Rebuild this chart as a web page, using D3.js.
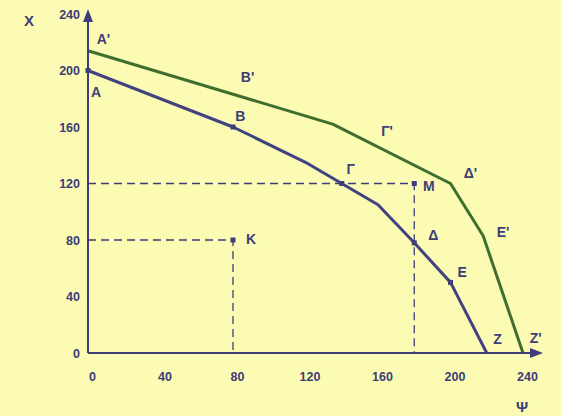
<!DOCTYPE html>
<meta charset="utf-8">
<style>
body { margin: 0; }
svg { background: #fbfbb4; display: block; }
text { font-family: "Liberation Sans", Arial, sans-serif; font-weight: bold; fill: #3d3d78; }
.tick text { font-family: "Liberation Sans Narrow", "Liberation Sans", Arial, sans-serif; font-size: 12.5px; }
</style>
<body>
<script src="https://cdn.jsdelivr.net/npm/d3@7"></script>
<script>

// axis ticks
var xTicks = [0, 40, 80, 120, 160, 200, 240];
var yTicks = [0, 40, 80, 120, 160, 200, 240];

// first frontier (blue)
var blueX = [0, 80, 120, 140, 160, 180, 200, 220];
var blueY = [200, 160, 135, 120, 105, 78, 50, 0];

// second frontier (green)
var greenX = [0, 135, 200, 218, 240];
var greenY = [214, 162, 120, 83, 0];

// marked points
var dotX = [0, 80, 140, 180, 200, 80, 180];
var dotY = [200, 160, 120, 78, 50, 80, 120];

// dashed guide points K and M
var guideX = [80, 180];
var guideY = [80, 120];

// point labels and where they sit (data units)
var labelText = ["A'", "A", "B'", "B", "Γ'", "Γ", "M", "Δ'", "E'", "Δ", "E", "K", "Z", "Z'"];
var labelX = [8.5, 4.5, 88, 84, 165, 145, 188, 211, 229, 190.5, 206.5, 90, 226, 247];
var labelY = [222, 185, 195.5, 168, 157, 130, 118, 127.5, 86, 83.5, 57.5, 81, 10, 10.5];

var margin = {top: 14, right: 38, bottom: 63, left: 88},
    width = 561 - margin.left - margin.right,
    height = 416 - margin.top - margin.bottom;

var ink = "#3d3d78";

var x = d3.scaleLinear().domain([0, 240]).range([0, width]);
var y = d3.scaleLinear().domain([0, 240]).range([height, 0]);

var svg = d3.select("body").append("svg")
    .attr("width", 561)
    .attr("height", 416)
  .append("g")
    .attr("transform", "translate(" + margin.left + "," + margin.top + ")");

// dashed guides
guideX.forEach(function(gx, i) {
  var gy = guideY[i];
  svg.append("path")
      .attr("d", "M0," + y(gy) + "H" + x(gx) + "V" + y(0))
      .attr("fill", "none")
      .attr("stroke", ink)
      .attr("stroke-width", 1.3)
      .attr("stroke-dasharray", "8,5");
});

// frontiers
var line = d3.line()
    .x(function(d) { return x(d[0]); })
    .y(function(d) { return y(d[1]); });

svg.append("path")
    .datum(d3.zip(greenX, greenY))
    .attr("d", line)
    .attr("fill", "none")
    .attr("stroke", "#3f6f2c")
    .attr("stroke-width", 3)
    .attr("stroke-linejoin", "round");

svg.append("path")
    .datum(d3.zip(blueX, blueY))
    .attr("d", line)
    .attr("fill", "none")
    .attr("stroke", "#41427f")
    .attr("stroke-width", 3)
    .attr("stroke-linejoin", "round");

// dots
svg.selectAll(".dot")
    .data(d3.zip(dotX, dotY))
  .enter().append("rect")
    .attr("class", "dot")
    .attr("x", function(d) { return x(d[0]) - 2.5; })
    .attr("y", function(d) { return y(d[1]) - 2.5; })
    .attr("width", 5)
    .attr("height", 5)
    .attr("fill", ink);

// axes
var xAxis = svg.append("g")
    .attr("transform", "translate(0," + height + ")")
    .call(d3.axisBottom(x).tickValues(xTicks).tickSize(0).tickPadding(19));
xAxis.select(".domain").remove();
xAxis.selectAll(".tick text").attr("dx", 4).attr("fill", ink);

var yAxis = svg.append("g")
    .call(d3.axisLeft(y).tickValues(yTicks).tickSize(0).tickPadding(8));
yAxis.select(".domain").remove();
yAxis.selectAll(".tick text").attr("fill", ink);

// axis lines with arrow heads
svg.append("line")
    .attr("x1", x(0)).attr("y1", y(0))
    .attr("x2", x(0)).attr("y2", y(240) + 6)
    .attr("stroke", ink).attr("stroke-width", 2);
svg.append("path")
    .attr("d", "M" + x(0) + "," + (y(240) - 5) + "l-5,13h10z")
    .attr("fill", ink);

svg.append("line")
    .attr("x1", x(0)).attr("y1", y(0))
    .attr("x2", x(240) + 12).attr("y2", y(0))
    .attr("stroke", ink).attr("stroke-width", 2);
svg.append("path")
    .attr("d", "M" + (x(240) + 20) + "," + y(0) + "l-13,-5v10z")
    .attr("fill", ink);

// axis titles
svg.append("text")
    .attr("x", 29 - margin.left)
    .attr("y", 20 - margin.top)
    .attr("text-anchor", "middle")
    .attr("dominant-baseline", "central")
    .style("font-size", "15px")
    .text("X");

svg.append("text")
    .attr("x", 522 - margin.left)
    .attr("y", 406 - margin.top)
    .attr("text-anchor", "middle")
    .attr("dominant-baseline", "central")
    .style("font-size", "15px")
    .text("Ψ");

// point labels
svg.selectAll(".lbl")
    .data(labelText)
  .enter().append("text")
    .attr("class", "lbl")
    .attr("x", function(d, i) { return x(labelX[i]); })
    .attr("y", function(d, i) { return y(labelY[i]); })
    .attr("text-anchor", "middle")
    .attr("dominant-baseline", "central")
    .style("font-size", "14px")
    .text(function(d) { return d; });

</script>
</body>
